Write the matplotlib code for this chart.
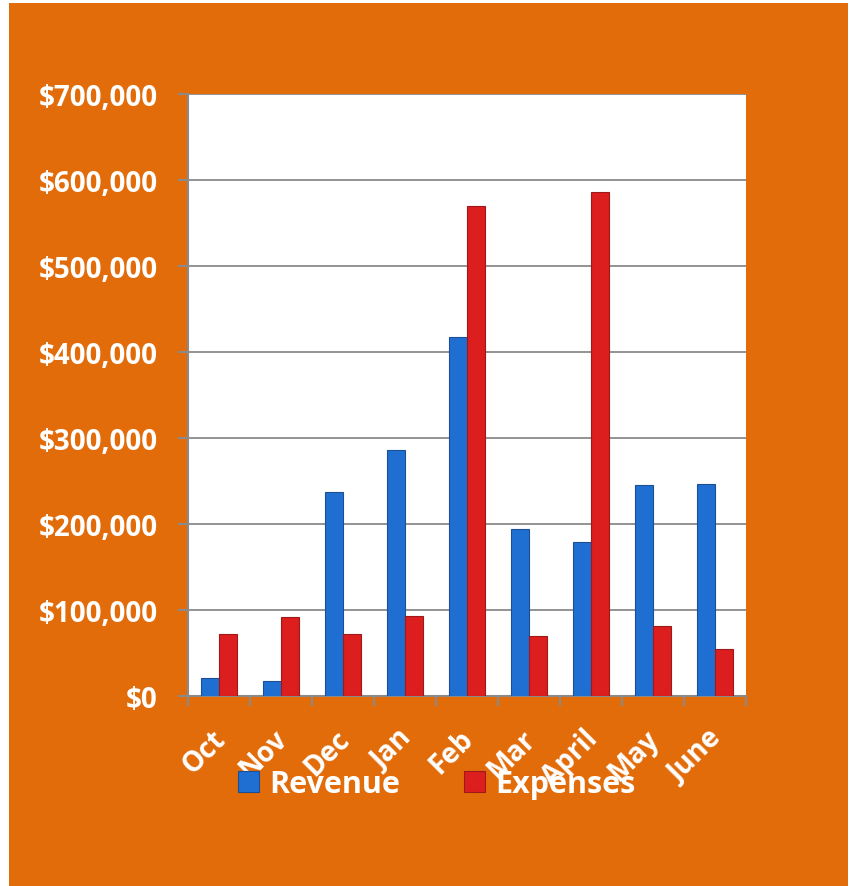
import matplotlib.pyplot as plt
import numpy as np
from matplotlib.patches import Rectangle
from matplotlib.ticker import FuncFormatter, FixedLocator
from matplotlib.transforms import ScaledTranslation

months = ['Oct', 'Nov', 'Dec', 'Jan', 'Feb', 'Mar', 'April', 'May', 'June']
revenue = [21000, 17500, 237000, 286000, 417000, 194000, 179000, 245000, 246000]
expenses = [72000, 92000, 72000, 93000, 570000, 70000, 586000, 81000, 55000]

orange = '#E36C0A'
blue = '#1F6FD3'
red = '#DD1E1E'
grey = '#8A8A8A'

plt.rcParams['font.family'] = ['Open Sans', 'DejaVu Sans']

fig = plt.figure(figsize=(8.53, 8.87), dpi=100, facecolor='white')
# orange slide background
fig.patches.append(Rectangle((9 / 853, 0), 839 / 853, 883 / 887,
                             transform=fig.transFigure, facecolor=orange,
                             edgecolor='none', zorder=-10))

ax = fig.add_axes([188 / 853, 1 - 697 / 887, 558 / 853, 602 / 887])
ax.set_facecolor('white')

x = np.arange(len(months))
w = 0.29
ax.bar(x - w / 2, revenue, w, color=blue, edgecolor='#1B4E92', linewidth=0.8,
       label='Revenue', zorder=3)
ax.bar(x + w / 2, expenses, w, color=red, edgecolor='#9E1A1A', linewidth=0.8,
       label='Expenses', zorder=3)

ax.set_xlim(-0.5, len(months) - 0.5)
ax.set_ylim(0, 700000)
ax.set_yticks(np.arange(0, 700001, 100000))
ax.yaxis.set_major_formatter(FuncFormatter(lambda v, p: '${:,.0f}'.format(v)))
ax.grid(axis='y', color=grey, linewidth=1.3, zorder=0)

for s in ['top', 'right']:
    ax.spines[s].set_visible(False)
for s in ['left', 'bottom']:
    ax.spines[s].set_color(grey)
    ax.spines[s].set_linewidth(1.5)

ax.tick_params(axis='y', length=7, width=1.5, color=grey, pad=15,
               labelcolor='white', labelsize=20)
for lab in ax.get_yticklabels():
    lab.set_fontweight('bold')

# month labels at centers, tick marks between months
ax.set_xticks(x)
ax.set_xticklabels(months, rotation=45, ha='right', rotation_mode='anchor',
                   fontsize=20, fontweight='bold', color='white')
ax.xaxis.set_minor_locator(FixedLocator(np.arange(-0.5, len(months), 1)))
ax.tick_params(axis='x', which='major', length=0, pad=20)
ax.tick_params(axis='x', which='minor', length=7, width=1.5, color=grey)
shift = ScaledTranslation(-8 / 100, 0, fig.dpi_scale_trans)
for lab in ax.get_xticklabels():
    lab.set_transform(lab.get_transform() + shift)

fig.legend(loc='center', bbox_to_anchor=(437 / 853, 1 - 785 / 887), ncol=2,
           frameon=False, handlelength=0.66, handleheight=0.66,
           handletextpad=0.35, columnspacing=2.1, labelcolor='white',
           prop={'weight': 'bold', 'size': 22})

fig.savefig('out.png', dpi=100, facecolor='white')
